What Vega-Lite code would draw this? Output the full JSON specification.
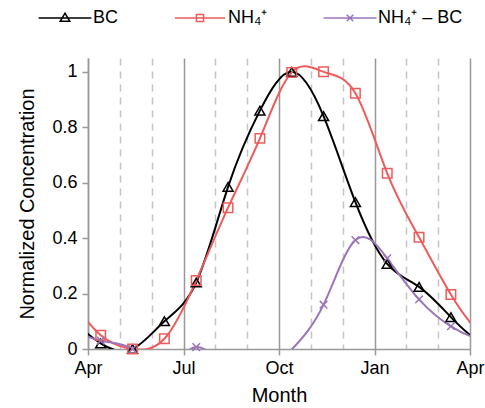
{
  "$schema": "https://vega.github.io/schema/vega-lite/v6.json",
  "width": 382,
  "height": 291,
  "autosize": "none",
  "padding": {"left": 88, "top": 58, "right": 15, "bottom": 59},
  "config": {"view": {"stroke": null}, "font": "Liberation Sans"},
  "data": {
    "values": [
      {"m": -1.6, "s": "BC", "v": 0.224}, {"m": -0.6, "s": "BC", "v": 0.115},
      {"m": 0.4, "s": "BC", "v": 0.02}, {"m": 1.4, "s": "BC", "v": 0.0}, {"m": 2.4, "s": "BC", "v": 0.10},
      {"m": 3.4, "s": "BC", "v": 0.24}, {"m": 4.4, "s": "BC", "v": 0.585}, {"m": 5.4, "s": "BC", "v": 0.86},
      {"m": 6.4, "s": "BC", "v": 1.0}, {"m": 7.4, "s": "BC", "v": 0.84}, {"m": 8.4, "s": "BC", "v": 0.53},
      {"m": 9.4, "s": "BC", "v": 0.307}, {"m": 10.4, "s": "BC", "v": 0.224}, {"m": 11.4, "s": "BC", "v": 0.115},
      {"m": 12.4, "s": "BC", "v": 0.02}, {"m": 13.4, "s": "BC", "v": 0.0},
      {"m": -1.6, "s": "NH₄⁺", "v": 0.403}, {"m": -0.6, "s": "NH₄⁺", "v": 0.197},
      {"m": 0.4, "s": "NH₄⁺", "v": 0.05}, {"m": 1.4, "s": "NH₄⁺", "v": 0.0}, {"m": 2.4, "s": "NH₄⁺", "v": 0.037},
      {"m": 3.4, "s": "NH₄⁺", "v": 0.247}, {"m": 4.4, "s": "NH₄⁺", "v": 0.51}, {"m": 5.4, "s": "NH₄⁺", "v": 0.76},
      {"m": 6.4, "s": "NH₄⁺", "v": 0.998}, {"m": 7.4, "s": "NH₄⁺", "v": 1.0}, {"m": 8.4, "s": "NH₄⁺", "v": 0.923},
      {"m": 9.4, "s": "NH₄⁺", "v": 0.634}, {"m": 10.4, "s": "NH₄⁺", "v": 0.403}, {"m": 11.4, "s": "NH₄⁺", "v": 0.197},
      {"m": 12.4, "s": "NH₄⁺", "v": 0.05}, {"m": 13.4, "s": "NH₄⁺", "v": 0.0},
      {"m": -1.6, "s": "NH₄⁺ – BC", "v": 0.179}, {"m": -0.6, "s": "NH₄⁺ – BC", "v": 0.082},
      {"m": 0.4, "s": "NH₄⁺ – BC", "v": 0.03}, {"m": 1.4, "s": "NH₄⁺ – BC", "v": 0.0}, {"m": 2.4, "s": "NH₄⁺ – BC", "v": -0.063},
      {"m": 3.4, "s": "NH₄⁺ – BC", "v": 0.007}, {"m": 4.4, "s": "NH₄⁺ – BC", "v": -0.075}, {"m": 5.4, "s": "NH₄⁺ – BC", "v": -0.10},
      {"m": 6.4, "s": "NH₄⁺ – BC", "v": -0.002}, {"m": 7.4, "s": "NH₄⁺ – BC", "v": 0.16}, {"m": 8.4, "s": "NH₄⁺ – BC", "v": 0.393},
      {"m": 9.4, "s": "NH₄⁺ – BC", "v": 0.327}, {"m": 10.4, "s": "NH₄⁺ – BC", "v": 0.179}, {"m": 11.4, "s": "NH₄⁺ – BC", "v": 0.082},
      {"m": 12.4, "s": "NH₄⁺ – BC", "v": 0.03}, {"m": 13.4, "s": "NH₄⁺ – BC", "v": 0.0}
    ]
  },
  "encoding": {
    "x": {
      "field": "m", "type": "quantitative",
      "scale": {"domain": [0, 12], "nice": false},
      "axis": {
        "title": "Month", "titleFontSize": 20, "titleFontWeight": "normal", "titlePadding": 8, "titleColor": "#000",
        "values": [0, 1, 2, 3, 4, 5, 6, 7, 8, 9, 10, 11, 12],
        "labelExpr": "datum.value % 3 === 0 ? ['Apr','Jul','Oct','Jan','Apr'][datum.value / 3] : ''",
        "labelFontSize": 18, "labelColor": "#000", "labelPadding": 4, "labelFlush": false, "labelOverlap": false,
        "domainColor": "#999", "domainWidth": 1.5,
        "tickColor": "#999", "tickWidth": 1.5,
        "tickSize": {"condition": {"test": "datum.value % 3 === 0", "value": 6}, "value": 0},
        "grid": true,
        "gridColor": {"condition": {"test": "datum.value % 3 === 0", "value": "#999"}, "value": "#c4c4c4"},
        "gridWidth": 1.5,
        "gridDash": {"condition": {"test": "datum.value % 3 === 0", "value": []}, "value": [7, 6]}
      }
    },
    "y": {
      "field": "v", "type": "quantitative",
      "scale": {"domain": [0, 1.05], "nice": false},
      "axis": {
        "title": "Normalized Concentration", "titleFontSize": 20, "titleFontWeight": "normal", "titlePadding": 14, "titleColor": "#000",
        "values": [0, 0.2, 0.4, 0.6, 0.8, 1], "format": ".1~f",
        "labelFontSize": 18, "labelColor": "#000", "labelPadding": 5,
        "domainColor": "#999", "domainWidth": 1.5, "tickColor": "#999", "tickWidth": 1.5, "tickSize": 6,
        "grid": false
      }
    }
  },
  "layer": [
    {
      "mark": {"type": "line", "interpolate": "natural", "clip": true, "strokeWidth": 2},
      "encoding": {
        "color": {
          "field": "s", "type": "nominal",
          "scale": {"domain": ["BC", "NH₄⁺", "NH₄⁺ – BC"], "range": ["#000000", "#ef5b5b", "#9b75b9"]},
          "legend": {
            "orient": "none", "legendX": -32, "legendY": -49, "direction": "horizontal", "title": null,
            "padding": 0, "labelFontSize": 18, "labelColor": "#000", "symbolSize": 144, "symbolStrokeWidth": 1.5,
            "labelOffset": 19, "columnPadding": 52
          }
        }
      }
    },
    {
      "transform": [{"filter": "datum.s === 'BC' && datum.v >= 0 && datum.m >= 0 && datum.m <= 12"}],
      "mark": {"type": "point", "shape": "triangle-up", "filled": false, "stroke": "#000000", "strokeWidth": 1.5, "size": 100, "opacity": 1}
    },
    {
      "transform": [{"filter": "datum.s === 'NH₄⁺' && datum.v >= 0 && datum.m >= 0 && datum.m <= 12"}],
      "mark": {"type": "point", "shape": "square", "filled": false, "stroke": "#ef5b5b", "strokeWidth": 1.5, "size": 90, "opacity": 1}
    },
    {
      "transform": [{"filter": "datum.s === 'NH₄⁺ – BC' && datum.v >= 0 && datum.m >= 0 && datum.m <= 12"}],
      "mark": {"type": "point", "shape": "M-0.8,-0.8L0.8,0.8M-0.8,0.8L0.8,-0.8", "filled": false, "stroke": "#9b75b9", "strokeWidth": 1.5, "size": 90, "opacity": 1}
    },
    {
      "transform": [{"filter": "datum.m >= 0 && datum.m <= 1"}],
      "mark": {"type": "point", "filled": false, "opacity": 0, "strokeWidth": 1.5},
      "encoding": {
        "color": {
          "field": "s", "type": "nominal",
          "scale": {"domain": ["BC", "NH₄⁺", "NH₄⁺ – BC"], "range": ["#000000", "#ef5b5b", "#9b75b9"]},
          "legend": {
            "orient": "none", "legendX": -32, "legendY": -49, "direction": "horizontal", "title": null,
            "padding": 0, "labelFontSize": 18, "labelColor": "#000", "symbolSize": 144, "symbolStrokeWidth": 1.5,
            "labelOffset": 19, "columnPadding": 52
          }
        },
        "shape": {
          "field": "s", "type": "nominal",
          "scale": {"domain": ["BC", "NH₄⁺", "NH₄⁺ – BC"], "range": ["M-4.4,0H4.4M0,-0.8L0.8,0.55L-0.8,0.55Z", "M-4.2,0H4.2M-0.6,-0.6H0.6V0.6H-0.6Z", "M-4.4,0H4.4M-0.55,-0.55L0.55,0.55M-0.55,0.55L0.55,-0.55"]},
          "legend": {
            "orient": "none", "legendX": -32, "legendY": -49, "direction": "horizontal", "title": null,
            "padding": 0, "labelFontSize": 18, "labelColor": "#000", "symbolSize": 144, "symbolStrokeWidth": 1.5,
            "labelOffset": 19, "columnPadding": 52
          }
        }
      }
    }
  ]
}
